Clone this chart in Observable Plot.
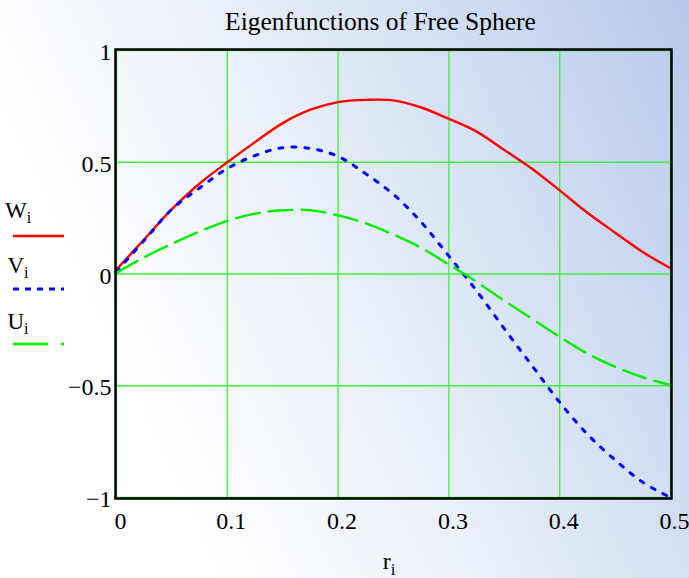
<!DOCTYPE html>
<html>
<head>
<meta charset="utf-8">
<script src="https://cdn.jsdelivr.net/npm/d3@7"></script>
<script src="https://cdn.jsdelivr.net/npm/@observablehq/plot@0.6"></script>
<style>
  html, body { margin: 0; padding: 0; background: #ffffff; }
  #chart {
    position: relative; width: 689px; height: 578px; overflow: hidden;
    background: linear-gradient(65deg, #ffffff 22%, #eaf0f9 50%, #b7caeb 100%);
  }
  #chart svg { display: block; }
</style>
</head>
<body>
<div id="chart"></div>
<script>
// ---- data ----
const r = [0, 0.025, 0.05, 0.075, 0.1, 0.125, 0.15, 0.175, 0.2, 0.225, 0.25,
           0.275, 0.3, 0.325, 0.35, 0.375, 0.4, 0.425, 0.45, 0.475, 0.5];
const W = [0.02, 0.155, 0.29, 0.405, 0.5, 0.59, 0.675, 0.735, 0.769, 0.779, 0.777,
           0.745, 0.694, 0.637, 0.555, 0.471, 0.374, 0.274, 0.185, 0.098, 0.026];
const V = [0.01, 0.15, 0.29, 0.385, 0.472, 0.53, 0.565, 0.562, 0.526, 0.448, 0.356,
           0.232, 0.08, -0.075, -0.245, -0.41, -0.574, -0.717, -0.832, -0.932, -1.0];
const U = [0.005, 0.075, 0.135, 0.19, 0.238, 0.27, 0.285, 0.285, 0.262, 0.227, 0.176,
           0.117, 0.042, -0.035, -0.12, -0.2, -0.281, -0.356, -0.415, -0.462, -0.497];

const xTicks = [0, 0.1, 0.2, 0.3, 0.4, 0.5];
const xTickLabels = ["0", "0.1", "0.2", "0.3", "0.4", "0.5"];
const yTicks = [-1, -0.5, 0, 0.5, 1];
const yTickLabels = ["\u22121", "\u22120.5", "0", "0.5", "1"];

const title = "Eigenfunctions of Free Sphere";
const seriesNames = ["W", "V", "U"];
const xLabel = "r";

// ---- build ----
const toRows = (vals) => r.map((x, i) => ({ r: x, v: vals[i] }));
const serif = "'Liberation Serif', 'Times New Roman', serif";
const gridColor = "#3ef03e";

const svg = Plot.plot({
  width: 689,
  height: 578,
  marginLeft: 116,
  marginRight: 19,
  marginTop: 50,
  marginBottom: 81,
  style: { background: "transparent", fontFamily: serif, fontSize: "24px", color: "black" },
  x: { domain: [0, 0.5] },
  y: { domain: [-1, 1] },
  marks: [
    Plot.ruleX(xTicks, { stroke: gridColor, strokeWidth: 1.3 }),
    Plot.ruleY(yTicks, { stroke: gridColor, strokeWidth: 1.3 }),
    Plot.line(toRows(W), { x: "r", y: "v", stroke: "#ff0000", strokeWidth: 2.4, curve: "catmull-rom" }),
    Plot.line(toRows(V), { x: "r", y: "v", stroke: "#0000ff", strokeWidth: 3, strokeDasharray: "4,9", curve: "catmull-rom" }),
    Plot.line(toRows(U), { x: "r", y: "v", stroke: "#00ee00", strokeWidth: 2.4, strokeDasharray: "24,9", curve: "catmull-rom" }),
    Plot.frame({ stroke: "black", strokeWidth: 2.5, inset: -1 }),
    Plot.axisX({ ticks: xTicks, tickFormat: (d, i) => xTickLabels[i], tickSize: 0, tickPadding: 14, dx: 4, label: null, fontSize: 24 }),
    Plot.axisY({ ticks: yTicks, tickFormat: (d, i) => yTickLabels[i], tickSize: 0, tickPadding: 5, dy: 2, label: null, fontSize: 24 })
  ]
});

document.getElementById("chart").appendChild(svg);

const s = d3.select(svg);
// title
s.append("text")
  .attr("x", 380.5).attr("y", 29.5)
  .attr("text-anchor", "middle")
  .attr("font-family", serif).attr("font-size", 25.5)
  .attr("fill", "black")
  .text(title);

// x label with subscript
const xl = s.append("text")
  .attr("x", 389).attr("y", 569)
  .attr("font-family", serif).attr("font-size", 24).attr("fill", "black");
xl.append("tspan").text(xLabel);
xl.append("tspan").attr("font-size", 17).attr("dy", 6).text("i");

// legend
const legendColors = ["#ff0000", "#0000ff", "#00ee00"];
const legendDash = [null, "6,6", "35,13"];
const legendWidths = [2.4, 3, 2.4];
const legendTextY = [218, 273, 329];
const legendLineY = [236, 289, 344];
seriesNames.forEach((name, i) => {
  const t = s.append("text")
    .attr("x", 18).attr("y", legendTextY[i])
    .attr("font-family", serif).attr("font-size", 23).attr("fill", "black");
  t.append("tspan").text(name);
  t.append("tspan").attr("font-size", 16).attr("dy", 5).text("i");
  const ln = s.append("line")
    .attr("x1", 13).attr("x2", 64)
    .attr("y1", legendLineY[i]).attr("y2", legendLineY[i])
    .attr("stroke", legendColors[i]).attr("stroke-width", legendWidths[i]);
  if (legendDash[i]) ln.attr("stroke-dasharray", legendDash[i]);
});
</script>
</body>
</html>
